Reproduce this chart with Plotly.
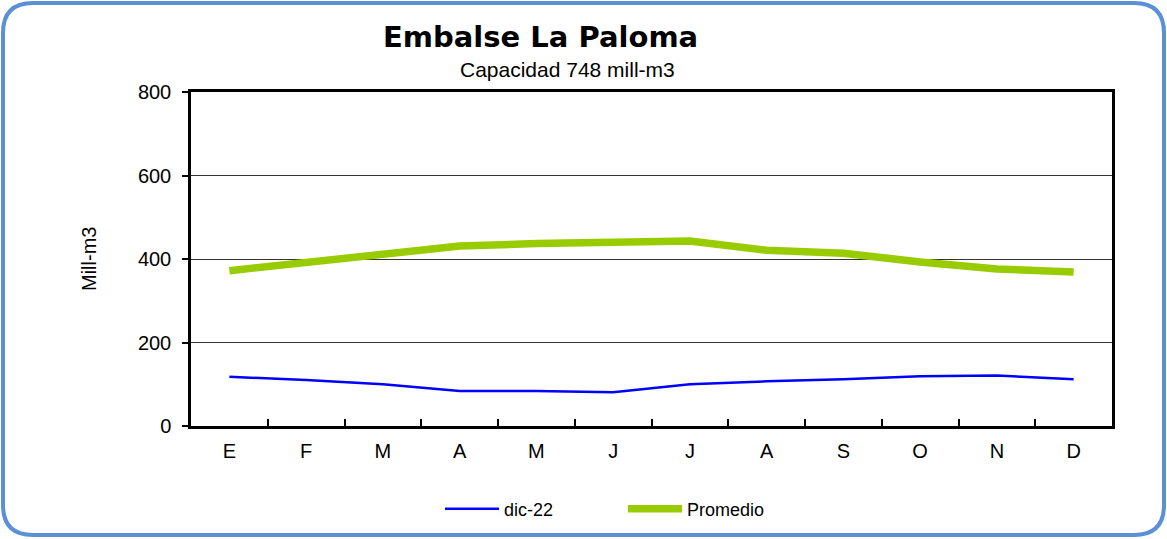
import plotly.graph_objects as go

MESES = ["E", "F", "M", "A", "M ", "J", "J ", "A ", "S", "O", "N", "D"]
ETIQUETAS = ["E", "F", "M", "A", "M", "J", "J", "A", "S", "O", "N", "D"]
DIC22 = [118, 110, 100, 84, 84, 81, 100, 107, 112, 119, 121, 112]
PROMEDIO = [372, 392, 411, 431, 437, 441, 443, 421, 414, 393, 376, 369]
Y_TICKS = [0, 200, 400, 600, 800]

W, H = 1167, 539
L, R, T, B = 191, 55, 92, 113
PW, PH = W - L - R, H - T - B

def px(x):  # pixel -> paper x
    return (x - L) / PW

def py(y):  # pixel -> paper y
    return (H - B - y) / PH

fig = go.Figure()
fig.add_trace(go.Scatter(x=MESES, y=DIC22, name="dic-22", mode="lines",
                         line=dict(color="#0000FF", width=2.5)))
fig.add_trace(go.Scatter(x=MESES, y=PROMEDIO, name="Promedio", mode="lines",
                         line=dict(color="#99CC00", width=7.5)))

fig.update_xaxes(type="category", tickvals=MESES, ticktext=ETIQUETAS,
                 range=[-0.5, 11.5], tickson="boundaries", ticks="inside",
                 ticklen=7, tickwidth=2, tickcolor="black", ticklabelstandoff=5,
                 showline=True, linecolor="black", linewidth=2.5, mirror=True,
                 showgrid=False, tickfont=dict(size=20, color="black"))
fig.update_yaxes(range=[0, 800], tickvals=Y_TICKS, ticks="outside", ticklen=6,
                 tickwidth=1.5, tickcolor="black", ticklabelstandoff=7,
                 showline=True, linecolor="black", linewidth=2.5, mirror=True,
                 showgrid=True, gridcolor="#333333", gridwidth=1, zeroline=False,
                 tickfont=dict(size=20, color="black"))

# marco redondeado alrededor de toda la figura
x0, x1, y0, y1, r = 3, 1164, 3, 535, 30
path = (f"M {px(x0 + r)},{py(y0)} L {px(x1 - r)},{py(y0)} "
        f"Q {px(x1)},{py(y0)} {px(x1)},{py(y0 + r)} L {px(x1)},{py(y1 - r)} "
        f"Q {px(x1)},{py(y1)} {px(x1 - r)},{py(y1)} L {px(x0 + r)},{py(y1)} "
        f"Q {px(x0)},{py(y1)} {px(x0)},{py(y1 - r)} L {px(x0)},{py(y0 + r)} "
        f"Q {px(x0)},{py(y0)} {px(x0 + r)},{py(y0)} Z")
fig.add_shape(type="path", path=path, xref="paper", yref="paper",
              line=dict(color="#5B8FD6", width=4), layer="above")

fig.add_annotation(x=px(540), y=py(37), xref="paper", yref="paper",
                   xanchor="center", yanchor="middle",
                   text="<b>Embalse La Paloma</b>", showarrow=False,
                   font=dict(family="DejaVu Sans", size=29, color="black"))
fig.add_annotation(x=px(567), y=py(69), xref="paper", yref="paper",
                   xanchor="center", yanchor="middle",
                   text="Capacidad 748 mill-m3", showarrow=False,
                   font=dict(family="Liberation Sans", size=21, color="black"))
fig.add_annotation(x=px(89), y=py(259), xref="paper", yref="paper",
                   xanchor="center", yanchor="middle",
                   text="Mill-m3", showarrow=False, textangle=-90,
                   font=dict(family="Liberation Sans", size=20, color="black"))

fig.update_layout(width=W, height=H, margin=dict(l=L, r=R, t=T, b=B),
                  paper_bgcolor="white", plot_bgcolor="white",
                  font=dict(family="Liberation Sans", color="black"),
                  showlegend=True,
                  legend=dict(orientation="h", x=px(440), xanchor="left",
                              y=py(509), yanchor="middle",
                              itemwidth=54,
                              entrywidth=114, entrywidthmode="pixels",
                              font=dict(size=18, color="black"),
                              bgcolor="rgba(0,0,0,0)"))

fig.write_html("out.html", config={"displayModeBar": False},
               post_script="document.body.style.margin='0px';")
